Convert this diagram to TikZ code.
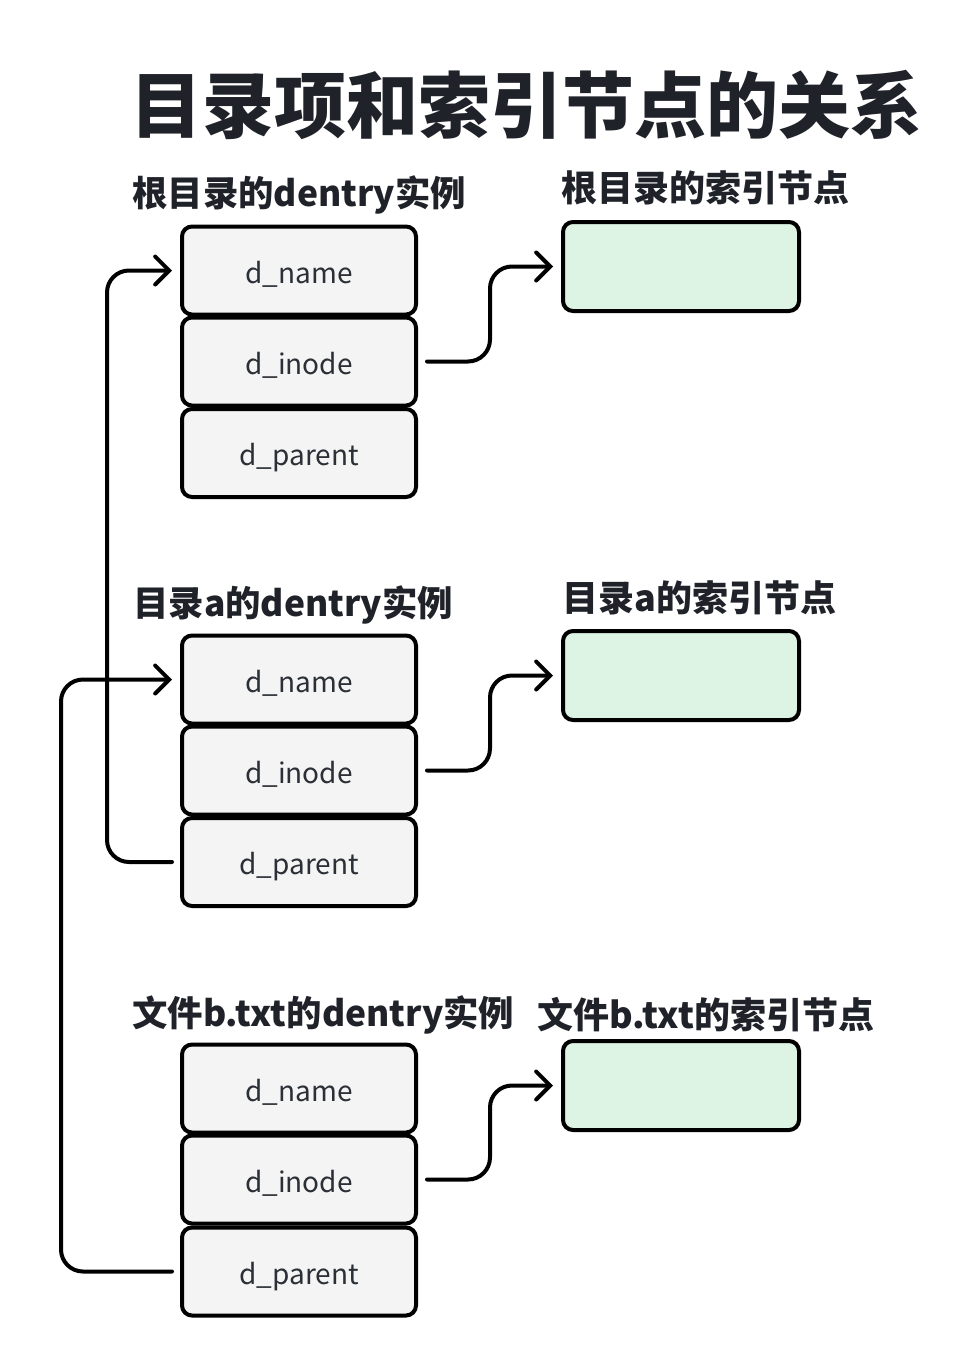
\documentclass[tikz,border=0pt]{standalone}
\usepackage{fontspec}
\setmainfont{Noto Sans CJK SC}
\usetikzlibrary{arrows.meta,calc}
\definecolor{txt}{HTML}{2B2F36}
\definecolor{ttl}{HTML}{1F2329}
\definecolor{boxfill}{HTML}{F4F4F4}
\definecolor{inofill}{HTML}{DDF4E4}
\tikzset{
  field/.style={draw=black, line width=4pt, rounded corners=10pt, fill=boxfill,
    minimum width=234pt, minimum height=88pt, inner sep=0pt, text=txt,
    text height=26pt, text depth=1pt,
    font=\fontsize{28}{32}\selectfont},
  inobox/.style={draw=black, line width=4pt, rounded corners=10pt, fill=inofill,
    minimum width=236pt, minimum height=89pt, inner sep=0pt},
  lbl/.style={anchor=west, inner sep=0pt, text=ttl, font=\fontsize{36}{40}\selectfont\bfseries},
  dlbl/.style={lbl, font=\fontsize{35.4}{40}\selectfont\bfseries},
  conn/.style={draw=black, line width=4pt, rounded corners=22pt, line cap=round,
    -{Straight Barb[length=14pt,width=28pt,line cap=round]}},
}
\begin{document}
\begin{tikzpicture}[x=1pt,y=-1pt]
\useasboundingbox (0,0) rectangle (972,1368);
\node[anchor=west, inner sep=0pt, text=ttl, font=\fontsize{72}{80}\selectfont\bfseries] (title) at (130,105) {目录项和索引节点的关系};

% group 1
\node[dlbl] (l1) at (132,195) {根目录的dentry实例};
\node[lbl] (r1) at (561,188) {根目录的索引节点};
\node[field] (n1) at (299,270.5) {d\_name};
\node[field] (i1) at (299,361.5) {d\_inode};
\node[field] (p1) at (299,453) {d\_parent};
\node[inobox] (g1) at (681,266.5) {};

% group 2
\node[dlbl] (l2) at (133,605) {目录a的dentry实例};
\node[lbl] (r2) at (562,598) {目录a的索引节点};
\node[field] (n2) at (299,679.5) {d\_name};
\node[field] (i2) at (299,770.5) {d\_inode};
\node[field] (p2) at (299,862) {d\_parent};
\node[inobox] (g2) at (681,675.5) {};

% group 3
\node[dlbl] (l3) at (132,1015) {文件b.txt的dentry实例};
\node[lbl] (r3) at (537,1015) {文件b.txt的索引节点};
\node[field] (n3) at (299,1088.5) {d\_name};
\node[field] (i3) at (299,1179.5) {d\_inode};
\node[field] (p3) at (299,1271.5) {d\_parent};
\node[inobox] (g3) at (681,1085.5) {};

% inode connectors
\draw[conn] ($(i1.east)+(9,0)$) -- ++(63,0) |- ($(g1.west)+(-8,0)$);
\draw[conn] ($(i2.east)+(9,0)$) -- ++(63,0) |- ($(g2.west)+(-8,0)$);
\draw[conn] ($(i3.east)+(9,0)$) -- ++(63,0) |- ($(g3.west)+(-8,0)$);

% parent connectors
\draw[conn] ($(p2.west)+(-8,0)$) -- ++(-65,0) |- ($(n1.west)+(-8,0)$);
\draw[conn] ($(p3.west)+(-8,0)$) -- ++(-111,0) |- ($(n2.west)+(-8,0)$);
\end{tikzpicture}
\end{document}
